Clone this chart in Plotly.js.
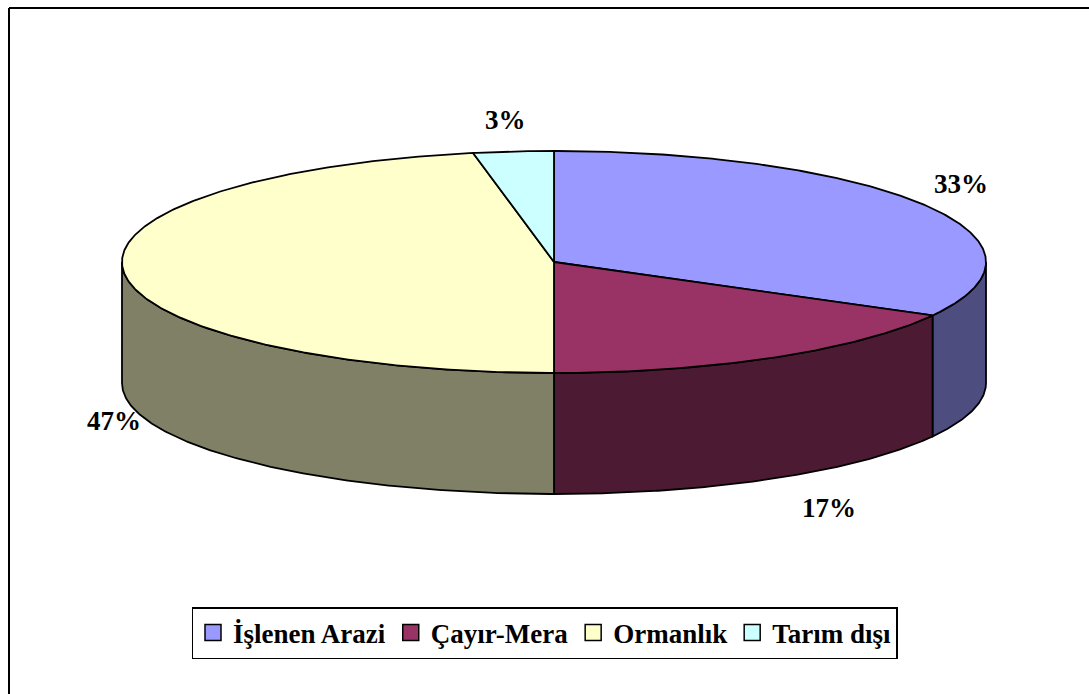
<!DOCTYPE html>
<html>
<head>
<meta charset="utf-8">
<script src="https://cdn.plot.ly/plotly-3.0.1.min.js"></script>
<style>
html,body{margin:0;padding:0;background:#fff;}
#chart{width:1089px;height:694px;}
</style>
</head>
<body>
<div id="chart"></div>
<script>
// ---- data ----
const categories = ['İşlenen Arazi', 'Çayır-Mera', 'Ormanlık', 'Tarım dışı'];
const values = [33, 17, 47, 3];
const topColors = ['#9999FF', '#993366', '#FFFFCC', '#CCFFFF'];
const sideColors = ['#4D4D80', '#4D1A33', '#808066', '#668080'];

// ---- geometry / style (not data) ----
const W = 1089, H = 694;
const cx = 554, cy = 262, rx = 432, ry = 111, depth = 121;
const labelShift = [[35, -22], [55, 29], [-10, 28], [-8, -31]];

const total = values.reduce((a, b) => a + b, 0);
function pt(tDeg, dy) {
  const t = tDeg * Math.PI / 180;
  return [cx + rx * Math.sin(t), cy - ry * Math.cos(t) + (dy || 0)];
}
function arc(a, b, dy) {
  const pts = [];
  const n = Math.max(2, Math.ceil(Math.abs(b - a) / 0.5));
  for (let k = 0; k <= n; k++) pts.push(pt(a + (b - a) * k / n, dy));
  return pts;
}

const starts = [], ends = [];
let acc = 0;
values.forEach(v => { starts.push(acc / total * 360); acc += v; ends.push(acc / total * 360); });

const traces = [];
// side walls (front half only)
values.forEach((v, i) => {
  const a = Math.max(starts[i], 90), b = Math.min(ends[i], 270);
  if (a < b) {
    const pts = arc(a, b, 0).concat(arc(b, a, depth));
    pts.push(pts[0]);
    traces.push({
      type: 'scatter', mode: 'lines', fill: 'toself',
      x: pts.map(p => p[0]), y: pts.map(p => p[1]),
      fillcolor: sideColors[i], line: {color: '#000', width: 1.8},
      showlegend: false, hoverinfo: 'skip'
    });
  }
});
// top faces
values.forEach((v, i) => {
  const pts = [[cx, cy]].concat(arc(starts[i], ends[i], 0));
  pts.push([cx, cy]);
  traces.push({
    type: 'scatter', mode: 'lines', fill: 'toself',
    x: pts.map(p => p[0]), y: pts.map(p => p[1]),
    fillcolor: topColors[i], line: {color: '#000', width: 1.8},
    showlegend: false, hoverinfo: 'skip'
  });
});
// legend entries
categories.forEach((c, i) => {
  traces.push({
    type: 'scatter', mode: 'markers', x: [null], y: [null], name: c,
    marker: {symbol: 'square', size: 16, color: topColors[i], line: {color: '#000', width: 1.5}},
    showlegend: true, hoverinfo: 'skip'
  });
});

// labels
const annotations = values.map((v, i) => {
  const mid = (starts[i] + ends[i]) / 2;
  const front = Math.cos(mid * Math.PI / 180) < 0;
  const p = pt(mid, front ? depth : 0);
  return {
    x: p[0], y: p[1], xref: 'x', yref: 'y',
    text: Math.round(v / total * 100) + '%',
    showarrow: false, xanchor: 'center', yanchor: 'middle',
    xshift: labelShift[i][0], yshift: -labelShift[i][1],
    font: {family: 'Liberation Serif, Times New Roman, serif', size: 27, color: '#000', weight: 'bold'}
  };
});

const layout = {
  width: W, height: H,
  margin: {l: 0, r: 0, t: 0, b: 0},
  paper_bgcolor: '#fff', plot_bgcolor: '#fff',
  xaxis: {range: [0, W], visible: false, fixedrange: true},
  yaxis: {range: [H, 0], visible: false, fixedrange: true},
  showlegend: true,
  legend: {
    orientation: 'h', x: 0.5, xanchor: 'center', y: 1 - 607 / H, yanchor: 'top',
    bordercolor: '#000', borderwidth: 1.5, bgcolor: '#fff',
    itemwidth: 30, traceorder: 'normal',
    font: {family: 'Liberation Serif, Times New Roman, serif', size: 27, color: '#000', weight: 'bold'}
  },
  shapes: [
    {type: 'line', xref: 'x', yref: 'y', x0: 9, y0: 8, x1: W, y1: 8, line: {color: '#000', width: 2}},
    {type: 'line', xref: 'x', yref: 'y', x0: 9, y0: 8, x1: 9, y1: H, line: {color: '#000', width: 2}}
  ],
  annotations: annotations,
  hovermode: false
};

Plotly.newPlot('chart', traces, layout, {staticPlot: true, displayModeBar: false});
</script>
</body>
</html>
